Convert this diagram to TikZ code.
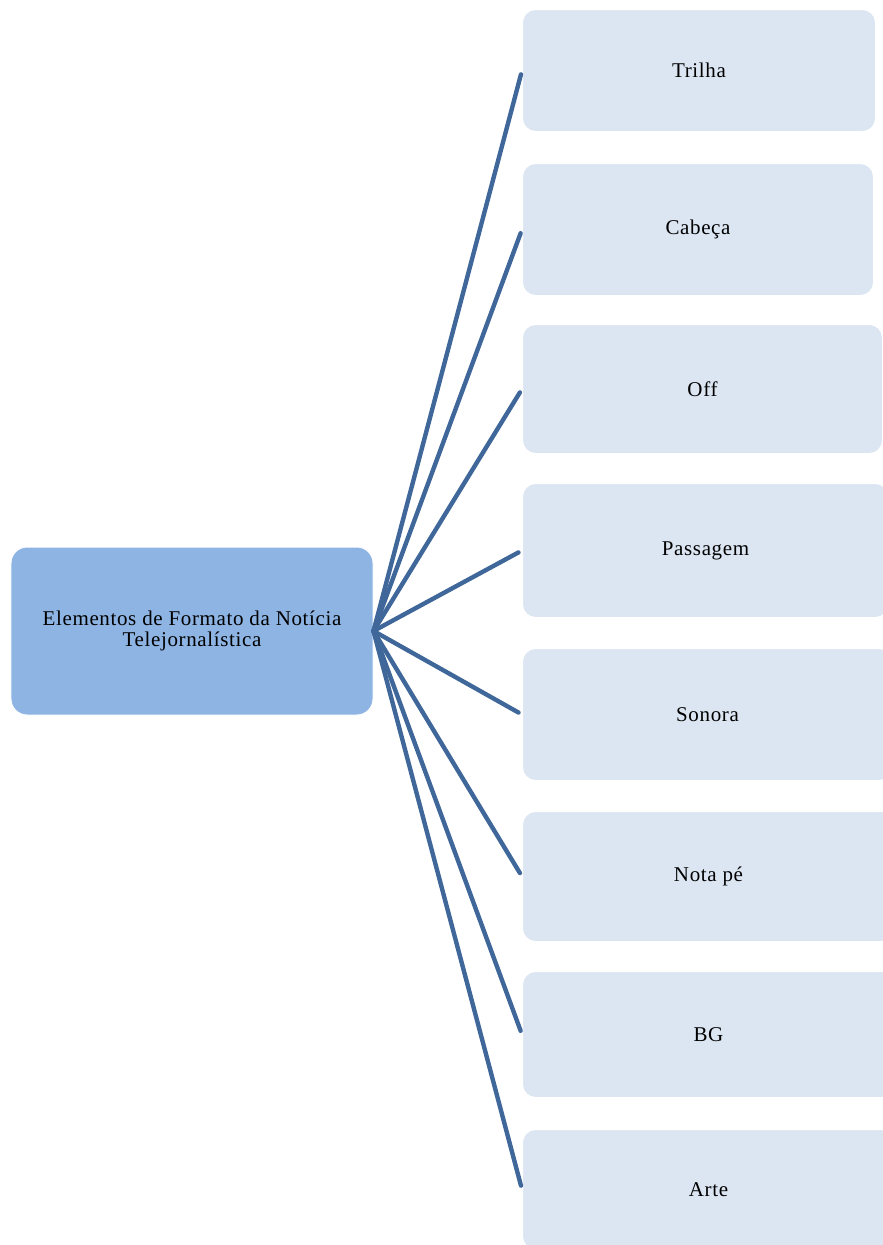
\documentclass[tikz,border=0pt]{standalone}
\usepackage{fontspec}
\setmainfont{Liberation Serif}
\begin{document}
\begin{tikzpicture}[x=1bp,y=-1bp,
  hub/.style={draw=white, line width=1bp, fill=hubfill, rounded corners=16bp,
    minimum width=362bp, minimum height=168bp, inner sep=0pt, align=center,
    font=\fontsize{21bp}{21bp}\selectfont\addfontfeature{LetterSpace=3}},
  leaf/.style={draw=white, line width=1bp, fill=leaffill, rounded corners=13bp,
    anchor=north west, inner sep=0pt,
    font=\fontsize{21bp}{21bp}\selectfont\addfontfeature{LetterSpace=3}},
  link/.style={draw=linkcol, line width=4.4bp, line cap=round, shorten >=4bp}]
\definecolor{hubfill}{HTML}{8EB4E3}
\definecolor{leaffill}{HTML}{DCE6F2}
\definecolor{linkcol}{HTML}{3F6799}
\useasboundingbox (0,0) rectangle (883,1245);

% central element
\node[hub] (c) at (192,631) {Elementos de Formato da Notícia\\Telejornalística};

% format elements
\node[leaf, minimum width=353bp, minimum height=122bp] (t1) at (522,9)    {Trilha};
\node[leaf, minimum width=351bp, minimum height=132bp] (t2) at (522,163)  {Cabeça};
\node[leaf, minimum width=360bp, minimum height=129bp] (t3) at (522,324)  {Off};
\node[leaf, minimum width=366bp, minimum height=134bp] (t4) at (522,483)  {Passagem};
\node[leaf, minimum width=370bp, minimum height=132bp] (t5) at (522,648)  {Sonora};
\node[leaf, minimum width=372bp, minimum height=130bp] (t6) at (522,811)  {Nota pé};
\node[leaf, minimum width=372bp, minimum height=126bp] (t7) at (522,971)  {BG};
\node[leaf, minimum width=372bp, minimum height=120bp] (t8) at (522,1129) {Arte};

% connectors
\foreach \k in {1,...,8} {
  \draw[link] (c.east) -- (t\k.west);
}
\end{tikzpicture}
\end{document}
